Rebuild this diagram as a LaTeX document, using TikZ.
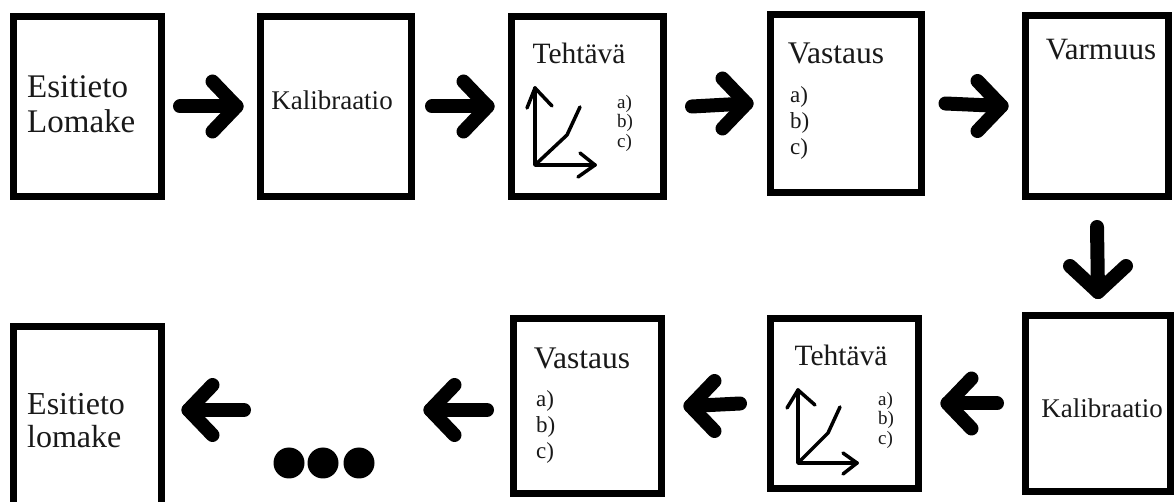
\documentclass[tikz,border=0pt]{standalone}
\usepackage{fontspec}
\setmainfont{Liberation Serif}
\usetikzlibrary{calc}
\begin{document}
\begin{tikzpicture}[x=1pt,y=-1pt,
  box/.style={draw, line width=7pt, rectangle, inner sep=0pt},
  fat/.style={line width=14pt, line cap=round, line join=round},
  thinline/.style={line width=3.5pt, line cap=round, line join=round},
  lbl/.style={inner sep=0pt, align=left, text=black!90},
  dot/.style={circle, fill=black, inner sep=0pt, minimum size=31pt}]
\useasboundingbox (0,0) rectangle (1176,502);
\clip (0,0) rectangle (1176,502);
\fill[white] (0,0) rectangle (1176,502);

% boxes
\node[box, minimum width=148pt, minimum height=180pt] (b1) at (87.5,106.5) {};
\node[box, minimum width=151pt, minimum height=180pt] (b2) at (336,106.5) {};
\node[box, minimum width=152pt, minimum height=180pt] (b3) at (587.5,106.5) {};
\node[box, minimum width=151pt, minimum height=178pt] (b4) at (846,103.5) {};
\node[box, minimum width=143pt, minimum height=181pt] (b5) at (1097,106) {};
\node[box, minimum width=145pt, minimum height=176pt] (b6) at (1098,403.5) {};
\node[box, minimum width=148pt, minimum height=170pt] (b7) at (844.5,403.5) {};
\node[box, minimum width=148pt, minimum height=175pt] (b8) at (587.5,406) {};
\node[box, minimum width=148pt, minimum height=190pt] (b9) at (87.5,421.5) {};

% texts
\node[lbl, font=\fontsize{33}{35}\selectfont, anchor=west] (t1) at (27,104) {Esitieto\\Lomake};
\node[lbl, font=\fontsize{27}{30}\selectfont] (t2) at (332,100) {Kalibraatio};
\node[lbl, font=\fontsize{29.5}{32}\selectfont] (t3) at (579,53) {Tehtävä};
\node[lbl, font=\fontsize{19}{19.5}\selectfont, anchor=north west] (t3b) at (617,95) {a)\\b)\\c)};
\node[lbl, font=\fontsize{31.5}{32}\selectfont] (t4) at (836,53) {Vastaus};
\node[lbl, font=\fontsize{23}{26}\selectfont, anchor=north west] (t4b) at (790,86) {a)\\b)\\c)};
\node[lbl, font=\fontsize{31}{32}\selectfont] (t5) at (1101,50) {Varmuus};
\node[lbl, font=\fontsize{27}{30}\selectfont] (t6) at (1102,408) {Kalibraatio};
\node[lbl, font=\fontsize{29.5}{32}\selectfont] (t7) at (841,355) {Tehtävä};
\node[lbl, font=\fontsize{19}{19.5}\selectfont, anchor=north west] (t7b) at (878,392) {a)\\b)\\c)};
\node[lbl, font=\fontsize{31.5}{32}\selectfont] (t8) at (582,358) {Vastaus};
\node[lbl, font=\fontsize{23}{26}\selectfont, anchor=north west] (t8b) at (536,390) {a)\\b)\\c)};
\node[lbl, font=\fontsize{32}{33}\selectfont, anchor=west] (t9) at (27,421) {Esitieto\\lomake};

% graphs
\draw[thinline] (527,108) -- (535,88) -- (552,106);
\draw[thinline] (535,88) -- (535,165) -- (595,165);
\draw[thinline] (580,153) -- (595,165) -- (578,177);
\draw[thinline] (535,165) -- (567,135) -- (580,107);
\draw[thinline] (787,408) -- (798,390) -- (815,405);
\draw[thinline] (798,390) -- (798,463) -- (857,463);
\draw[thinline] (843,453) -- (857,463) -- (843,474);
\draw[thinline] (798,463) -- (828,433) -- (840,407);

% dots
\node[dot] (d1) at (289,463) {};
\node[dot] (d2) at (323,463) {};
\node[dot] (d3) at (359,463) {};
\coordinate (g1) at (430.5,410);
\coordinate (g2) at (244,410);

% arrows top row
\draw[fat] ([xshift=15pt]b1.east) -- ([xshift=-20.5pt]b2.west) coordinate (a1);
\draw[fat] ($(a1)+(-24,-25)$) -- (a1) -- ($(a1)+(-24,25)$);
\draw[fat] ([xshift=17pt]b2.east) -- ([xshift=-20.5pt]b3.west) coordinate (a2);
\draw[fat] ($(a2)+(-24,-25)$) -- (a2) -- ($(a2)+(-24,25)$);
\draw[fat] ([xshift=25pt]b3.east) -- ([xshift=-20.5pt]b4.west) coordinate (a3);
\draw[fat] ($(a3)+(-24,-25)$) -- (a3) -- ($(a3)+(-24,25)$);
\draw[fat] ([xshift=20.5pt]b4.east) -- ([xshift=-20.5pt]b5.west) coordinate (a4);
\draw[fat] ($(a4)+(-24,-25)$) -- (a4) -- ($(a4)+(-24,25)$);
% down
\draw[fat] ([yshift=-27pt]b5.south) -- ([yshift=20pt]b6.north) coordinate (a5);
\draw[fat] ($(a5)+(-28,-26)$) -- (a5) -- ($(a5)+(28,-26)$);
% bottom row
\draw[fat] ([xshift=-25pt]b6.west) -- ([xshift=25.5pt]b7.east) coordinate (a6);
\draw[fat] ($(a6)+(24,-25)$) -- (a6) -- ($(a6)+(24,25)$);
\draw[fat] ([xshift=-27pt]b7.west) -- ([xshift=25.5pt]b8.east) coordinate (a7);
\draw[fat] ($(a7)+(24,-25)$) -- (a7) -- ($(a7)+(24,25)$);
\draw[fat] ([xshift=-23pt]b8.west |- g1) -- (g1);
\draw[fat] ($(g1)+(24,-25)$) -- (g1) -- ($(g1)+(24,25)$);
\draw[fat] (g2) -- ([xshift=23.5pt]b9.east |- g2) coordinate (a8);
\draw[fat] ($(a8)+(24,-25)$) -- (a8) -- ($(a8)+(24,25)$);
\end{tikzpicture}
\end{document}
